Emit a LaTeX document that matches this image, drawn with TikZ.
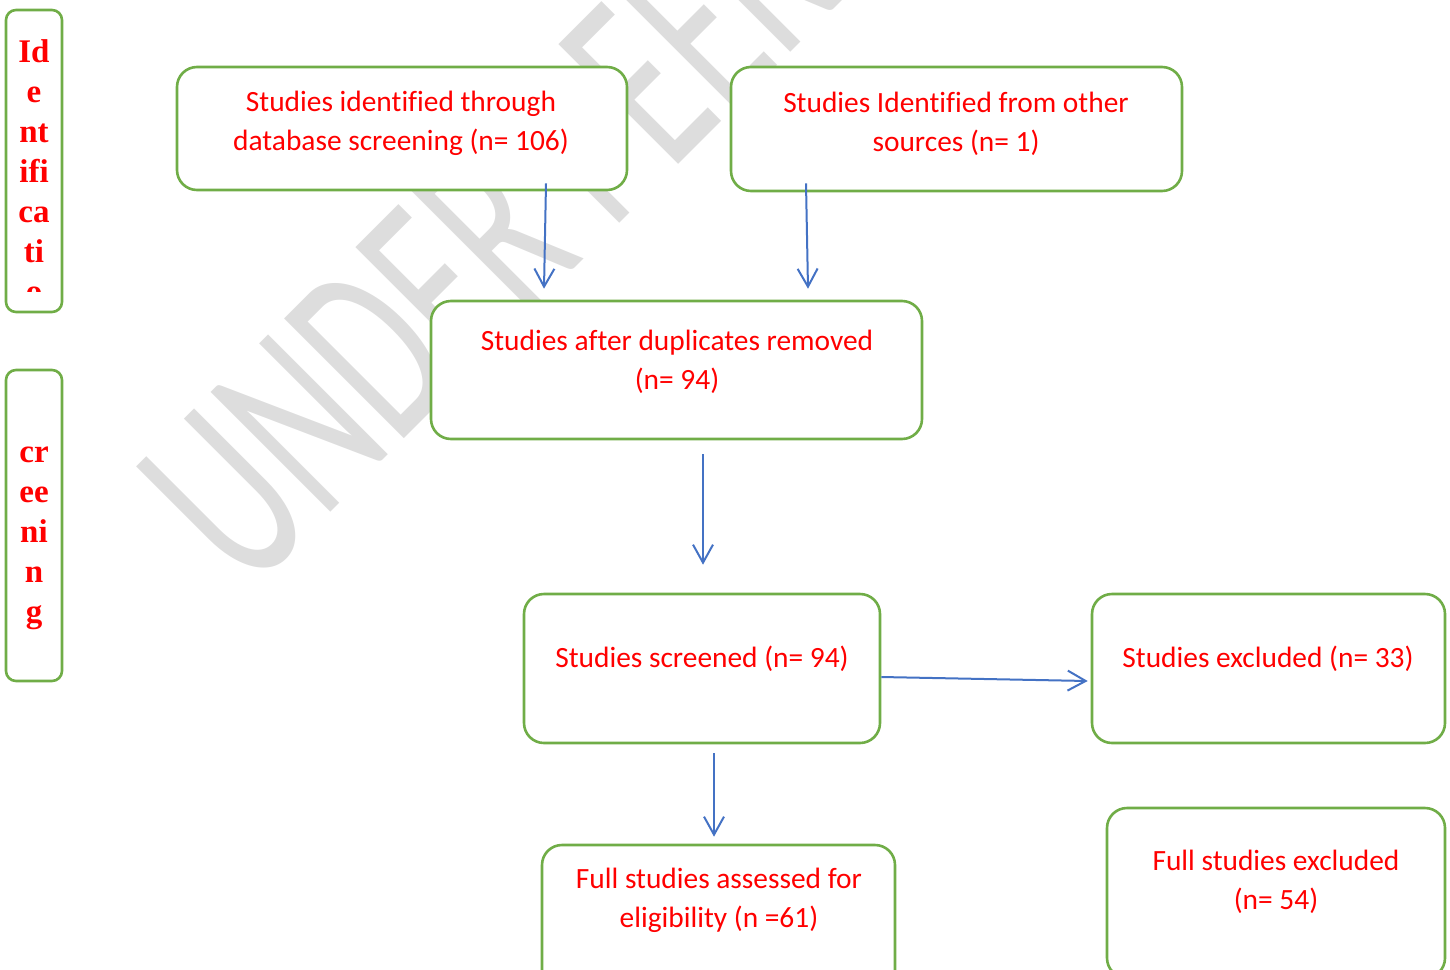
\documentclass[tikz,border=0pt]{standalone}
\usepackage{fontspec}
\setmainfont[Ligatures=CommonOff]{Carlito}
\newfontfamily\timesfont{Liberation Serif}
\usepackage{xcolor}
\usepackage{tikz}
\usetikzlibrary{arrows.meta}
\definecolor{boxgreen}{HTML}{70AD47}
\definecolor{flowblue}{HTML}{4472C4}
\definecolor{markgray}{HTML}{DDDDDD}
\tikzset{
  box/.style={draw=boxgreen, line width=1.3pt, fill=white, rounded corners=10pt, inner sep=0pt},
  sidebox/.style={box, rounded corners=5pt},
  boxtext/.style={text=red, font=\fontsize{14.7}{19.5}\selectfont, align=center, inner sep=0pt},
  sidetext/.style={text=red, font=\timesfont\bfseries\fontsize{16.5}{20}\selectfont, align=center, inner sep=0pt},
  flow/.style={draw=flowblue, line width=1pt, -{Straight Barb[length=9pt,width=10pt]}}
}

\begin{document}
\begin{tikzpicture}[x=0.5pt,y=-0.5pt]
		\useasboundingbox (0,0) rectangle (1450,969);
		\clip (0,0) rectangle (1450,969);
		\node[rotate=45, xscale=0.615, anchor=base west, inner sep=0pt, text=markgray, font=\fontsize{132}{132}\selectfont] (mark) at (248.5,594.5) {UNDER PEER REVIEW};
		%
		\node[sidebox, minimum width=28pt, minimum height=151pt] (ident) at (34,161) {};
		\node[sidebox, minimum width=28pt, minimum height=155.5pt] (scrlbl) at (34,525.5) {};
		\begin{scope}
			\clip (0,0) rectangle (70,291);
			\node[sidetext] (identtxt) at (34,171) {Id\\e\\nt\\ifi\\ca\\ti\\o};
		\end{scope}
		\node[sidetext] (scrlbltxt) at (34,538.5) {cr\\ee\\ni\\n\\g};
		%
		\node[box, minimum width=225pt, minimum height=61.5pt] (dbase) at (402,128.5) {};
		\node[box, minimum width=225.5pt, minimum height=62pt] (other) at (956.5,129) {};
		\node[box, minimum width=245.5pt, minimum height=69pt] (dupl) at (676.5,370) {};
		\node[box, minimum width=178pt, minimum height=74.5pt] (screen) at (702,668.5) {};
		\node[box, minimum width=176.5pt, minimum height=74.5pt] (excl) at (1268.5,668.5) {};
		\node[box, minimum width=176.5pt, minimum height=75pt] (full) at (718.5,920) {};
		\node[box, minimum width=169pt, minimum height=85pt] (fullexcl) at (1276,893) {};
		%
		\node[boxtext] (dbasetxt) at (401,123) {Studies identified through\\database screening (n= 106)};
		\node[boxtext] (othertxt) at (956,123.5) {Studies Identified from other\\sources (n= 1)};
		\node[boxtext] (dupltxt) at (677,361.5) {Studies after duplicates removed\\(n= 94)};
		\node[boxtext] (screentxt) at (702,659) {Studies screened (n= 94)};
		\node[boxtext] (excltxt) at (1268,659) {Studies excluded (n= 33)};
		\node[boxtext] (fulltxt) at (719,900.5) {Full studies assessed for\\eligibility (n =61)};
		\node[boxtext] (fullexcltxt) at (1276,881.5) {Full studies excluded\\(n= 54)};
		%
		\draw[flow] ([xshift=72pt,yshift=4pt]dbase.south) -- ([xshift=-66.25pt,yshift=5.5pt]dupl.north);
		\draw[flow] ([xshift=-75.25pt,yshift=4.5pt]other.south) -- ([xshift=65.75pt,yshift=5.5pt]dupl.north);
		\draw[flow] ([xshift=13.25pt,yshift=-7pt]dupl.south) -- ([xshift=0.5pt,yshift=14pt]screen.north);
		\draw[flow] ([yshift=-4.25pt]screen.east) -- ([xshift=-1.5pt,yshift=-6.25pt]excl.west);
		\draw[flow] ([xshift=6pt,yshift=-4.5pt]screen.south) -- ([xshift=-2.25pt,yshift=3.5pt]full.north);
	\end{tikzpicture}
\end{document}
